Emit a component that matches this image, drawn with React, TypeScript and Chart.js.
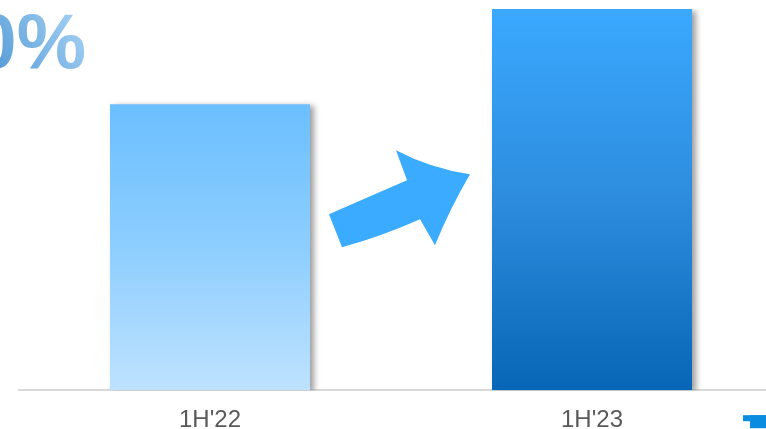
import React, { useEffect, useRef } from "react";
import { Chart, registerables } from "chart.js";

Chart.register(...registerables);

const categories = ["1H'22", "1H'23"];
const values = [3.0, 4.0];
const headline = "0%";

const gradStops = [
  ["#6BBFFF", "#8DCEFF", "#BEE2FF"],
  ["#3AA9FF", "#2D8CDD", "#0766B6"],
];

const decorPlugin = {
  id: "decor",
  beforeDatasetsDraw(chart: any) {
    const ctx = chart.ctx;
    ctx.save();
    ctx.shadowColor = "rgba(0,0,0,0.38)";
    ctx.shadowBlur = 6;
    ctx.shadowOffsetX = 4;
    ctx.shadowOffsetY = 2;
  },
  afterDatasetsDraw(chart: any) {
    const ctx = chart.ctx;
    ctx.restore();
    const meta = chart.getDatasetMeta(0);
    const b1 = meta.data[0];
    const b2 = meta.data[1];
    const x0 = b1.x + b1.width / 2;
    const yb = chart.chartArea.bottom;
    // arrow
    const P = (dx: number, dy: number) => [x0 + dx, yb + dy];
    ctx.save();
    ctx.fillStyle = "#3BABFF";
    ctx.beginPath();
    let p = P(19, -176);
    ctx.moveTo(p[0], p[1]);
    p = P(32, -143);
    ctx.lineTo(p[0], p[1]);
    let c = P(72, -154);
    p = P(110, -171);
    ctx.quadraticCurveTo(c[0], c[1], p[0], p[1]);
    p = P(125, -145);
    ctx.lineTo(p[0], p[1]);
    c = P(140, -182);
    p = P(160, -216);
    ctx.quadraticCurveTo(c[0], c[1], p[0], p[1]);
    c = P(120, -222);
    p = P(86, -240);
    ctx.quadraticCurveTo(c[0], c[1], p[0], p[1]);
    p = P(97, -210);
    ctx.lineTo(p[0], p[1]);
    c = P(60, -194);
    p = P(19, -176);
    ctx.quadraticCurveTo(c[0], c[1], p[0], p[1]);
    ctx.closePath();
    ctx.fill();
    ctx.restore();

    // headline text
    ctx.save();
    ctx.font = "bold 78px 'Liberation Sans', Arial, sans-serif";
    ctx.textAlign = "right";
    ctx.textBaseline = "alphabetic";
    const g = ctx.createLinearGradient(0, 68, 85, 12);
    g.addColorStop(0, "#5A9ED8");
    g.addColorStop(1, "#A9D4F5");
    ctx.fillStyle = g;
    ctx.fillText(headline, 86, 68);
    ctx.restore();

    // small corner mark
    ctx.save();
    ctx.fillStyle = "#0A8CE0";
    const rx = b2.x + b2.width / 2 + 51;
    ctx.fillRect(rx, yb + 25, 30, 6);
    ctx.fillRect(rx + 7, yb + 25, 23, 13);
    ctx.restore();
  },
};

export default function App() {
  const ref = useRef<HTMLCanvasElement>(null);
  useEffect(() => {
    const canvas = ref.current!;
    const chart = new Chart(canvas, {
      type: "bar",
      data: {
        labels: categories,
        datasets: [
          {
            data: values,
            backgroundColor: (context: any) => {
              const ch = context.chart;
              const i = context.dataIndex;
              const stops = gradStops[i] || gradStops[0];
              const ys = ch.scales && ch.scales.y;
              if (!ch.chartArea || !ys) return stops[0];
              const top = ys.getPixelForValue(values[i]);
              const bot = ys.getPixelForValue(0);
              const g = ch.ctx.createLinearGradient(0, top, 0, bot);
              g.addColorStop(0, stops[0]);
              g.addColorStop(0.5, stops[1]);
              g.addColorStop(1, stops[2]);
              return g;
            },
            borderWidth: 0,
            barPercentage: 200 / 382,
            categoryPercentage: 1,
          },
        ],
      },
      options: {
        responsive: false,
        animation: false,
        layout: { padding: { left: 19, top: 9, right: 0, bottom: -22 } },
        plugins: { legend: { display: false }, tooltip: { enabled: false } },
        scales: {
          y: { display: false, min: 0, max: 4 },
          x: {
            grid: { display: false, drawTicks: false },
            border: { display: true, color: "#D9D9D9", width: 2 },
            ticks: {
              color: "#595959",
              padding: 16,
              font: { family: "'Liberation Sans', Arial, sans-serif", size: 24 },
            },
          },
        },
      },
      plugins: [decorPlugin],
    });
    return () => chart.destroy();
  }, []);
  return (
    <div
      style={{
        position: "fixed",
        left: 0,
        top: 0,
        width: 766,
        height: 429,
        overflow: "hidden",
        background: "#fff",
      }}
    >
      <canvas ref={ref} width={783} height={429} style={{ width: 783, height: 429, display: "block" }} />
    </div>
  );
}
